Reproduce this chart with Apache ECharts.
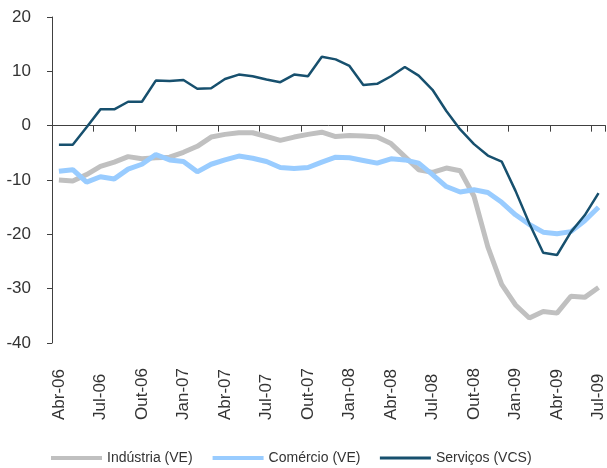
<!DOCTYPE html>
<html>
<head>
<meta charset="utf-8">
<script src="https://cdn.jsdelivr.net/npm/echarts@6/dist/echarts.min.js"></script>
<style>
  html, body { margin: 0; padding: 0; background: #fff; }
  #chart { width: 607px; height: 468px; }
</style>
</head>
<body>
<div id="chart"></div>
<script>
// meses de Abr-06 a Jul-09
var meses = [
  'Abr-06','Mai-06','Jun-06','Jul-06','Ago-06','Set-06','Out-06','Nov-06','Dez-06',
  'Jan-07','Fev-07','Mar-07','Abr-07','Mai-07','Jun-07','Jul-07','Ago-07','Set-07','Out-07','Nov-07','Dez-07',
  'Jan-08','Fev-08','Mar-08','Abr-08','Mai-08','Jun-08','Jul-08','Ago-08','Set-08','Out-08','Nov-08','Dez-08',
  'Jan-09','Fev-09','Mar-09','Abr-09','Mai-09','Jun-09','Jul-09'
];

var industria = [
  -10.0, -10.2, -9.0, -7.5, -6.7, -5.7, -6.1, -5.9, -5.8, -4.9,
  -3.8, -2.1, -1.6, -1.3, -1.3, -2.0, -2.7, -2.1, -1.6, -1.2,
  -2.0, -1.8, -1.9, -2.1, -3.3, -5.7, -8.1, -8.6, -7.8, -8.3,
  -13.0, -22.3, -29.2, -33.0, -35.4, -34.2, -34.5, -31.4, -31.6, -29.8
];
var comercio = [
  -8.4, -8.1, -10.4, -9.4, -9.8, -8.0, -7.1, -5.3, -6.3, -6.6,
  -8.5, -7.1, -6.3, -5.6, -6.0, -6.6, -7.7, -7.9, -7.7, -6.7,
  -5.8, -5.9, -6.4, -6.9, -6.1, -6.3, -6.9, -9.0, -11.2, -12.2,
  -11.8, -12.3, -14.1, -16.4, -18.2, -19.6, -19.9, -19.5, -17.5, -15.0
];
var servicos = [
  -3.5, -3.5, -0.3, 3.0, 3.0, 4.4, 4.4, 8.3, 8.2, 8.4,
  6.8, 6.9, 8.6, 9.4, 9.1, 8.5, 8.0, 9.4, 9.1, 12.7,
  12.2, 11.0, 7.5, 7.7, 9.1, 10.8, 9.2, 6.6, 2.7, -0.7,
  -3.4, -5.5, -6.6, -12.0, -18.0, -23.4, -23.8, -19.6, -16.5, -12.4
];

var chart = echarts.init(document.getElementById('chart'));

var option = {
  animation: false,
  backgroundColor: '#fff',
  textStyle: { fontFamily: 'Liberation Sans, Arial, sans-serif' },
  grid: { left: 52, top: 17, width: 556, height: 326 },
  legend: {
    top: 446,
    left: 44,
    itemWidth: 51,
    itemHeight: 14,
    itemGap: 18,
    textStyle: { fontSize: 14, color: '#333' },
    data: [
      { name: 'Indústria (VE)', lineStyle: { width: 4 }, itemStyle: { opacity: 0 } },
      { name: 'Comércio (VE)', lineStyle: { width: 4 }, itemStyle: { opacity: 0 } },
      { name: 'Serviços (VCS)', lineStyle: { width: 3 }, itemStyle: { opacity: 0 } }
    ]
  },
  xAxis: [
    {
      // eixo dos rótulos, embaixo
      type: 'category',
      data: meses,
      boundaryGap: true,
      position: 'bottom',
      axisLine: { show: false, onZero: false },
      axisTick: { show: false },
      axisLabel: {
        interval: 2,
        rotate: 90,
        align: 'left',
        margin: 77,
        fontSize: 17,
        color: '#333'
      },
      splitLine: { show: false }
    },
    {
      // linha do zero com as marcas
      type: 'category',
      data: meses,
      boundaryGap: true,
      position: 'bottom',
      axisLine: { onZero: true, lineStyle: { color: '#404040', width: 1 } },
      axisTick: { show: true, interval: 2, length: 6, lineStyle: { color: '#404040' } },
      axisLabel: { show: false },
      splitLine: { show: false }
    }
  ],
  yAxis: {
    type: 'value',
    min: -40,
    max: 20,
    interval: 10,
    axisLine: { show: true, lineStyle: { color: '#404040', width: 1 } },
    axisTick: { show: true, length: 5, lineStyle: { color: '#404040' } },
    axisLabel: { fontSize: 17, color: '#333', margin: 21 },
    splitLine: { show: false }
  },
  series: [
    {
      name: 'Indústria (VE)',
      type: 'line',
      data: industria,
      symbol: 'none',
      lineStyle: { color: '#c0c0c0', width: 5 },
      itemStyle: { color: '#c0c0c0' }
    },
    {
      name: 'Comércio (VE)',
      type: 'line',
      data: comercio,
      symbol: 'none',
      lineStyle: { color: '#99ccff', width: 5 },
      itemStyle: { color: '#99ccff' }
    },
    {
      name: 'Serviços (VCS)',
      type: 'line',
      data: servicos,
      symbol: 'none',
      lineStyle: { color: '#17506e', width: 2.5 },
      itemStyle: { color: '#17506e' }
    }
  ]
};

chart.setOption(option);
</script>
</body>
</html>
